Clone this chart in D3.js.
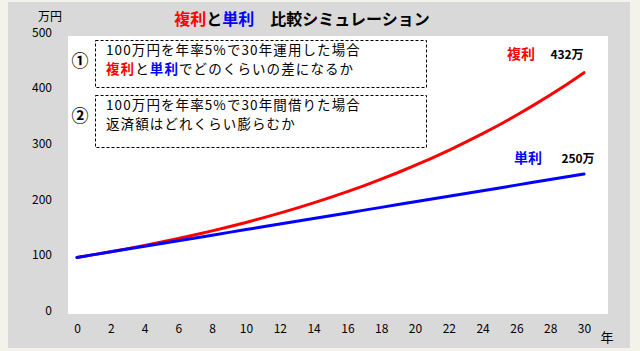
<!DOCTYPE html>
<html>
<head>
<meta charset="utf-8">
<script src="https://cdn.jsdelivr.net/npm/d3@7"></script>
<style>
  body { margin: 0; background: #f3f3ec; }
  svg text { font-family: "Noto Sans CJK JP", "Noto Sans", sans-serif; }
</style>
</head>
<body>
<svg id="chart" width="640" height="351"></svg>
<script>
// DATA
const years = d3.range(0, 31);
const compound = [100, 105, 110.25, 115.76, 121.55, 127.63, 134.01, 140.71, 147.75, 155.13,
  162.89, 171.03, 179.59, 188.56, 197.99, 207.89, 218.29, 229.2, 240.66, 252.7,
  265.33, 278.6, 292.53, 307.15, 322.51, 338.64, 355.57, 373.35, 392.01, 411.61, 432.19];
const simple = [100, 105, 110, 115, 120, 125, 130, 135, 140, 145, 150, 155, 160, 165, 170,
  175, 180, 185, 190, 195, 200, 205, 210, 215, 220, 225, 230, 235, 240, 245, 250];
const xTicks = d3.range(0, 31, 2);
const yTicks = [0, 100, 200, 300, 400, 500];
const notes = [
  ["100万円を年率5%で30年運用した場合", "複利と単利でどのくらいの差になるか"],
  ["100万円を年率5%で30年間借りた場合", "返済額はどれくらい膨らむか"]
];

// CANVAS SETUP
const svg = d3.select("#chart");
const plot = { left: 68, right: 608, top: 36, bottom: 314 };

svg.append("rect").attr("x", 8).attr("y", 2).attr("width", 622).attr("height", 346).attr("fill", "#d9d9d9");
svg.append("rect").attr("x", plot.left).attr("y", plot.top)
  .attr("width", plot.right - plot.left).attr("height", plot.bottom - plot.top).attr("fill", "#fff");

const x = d3.scaleLinear().domain([0, 30]).range([77, 584]);
const y = d3.scaleLinear().domain([0, 500]).range([313, 35]);

// title
const title = svg.append("text").attr("x", 302).attr("y", 25).attr("text-anchor", "middle")
  .attr("font-size", 16).attr("font-weight", "bold");
title.append("tspan").attr("fill", "#ff0000").text("複利");
title.append("tspan").attr("fill", "#000").text("と");
title.append("tspan").attr("fill", "#0000ff").text("単利");
title.append("tspan").attr("fill", "#000").text("　比較シミュレーション");

// axes
const yAxis = svg.append("g").attr("transform", "translate(52,0)")
  .call(d3.axisLeft(y).tickValues(yTicks).tickSize(0).tickPadding(0));
yAxis.select(".domain").remove();
yAxis.selectAll("text").attr("font-size", 12).attr("fill", "#000").attr("dy", "0.1em");

const xAxis = svg.append("g").attr("transform", "translate(0,324)")
  .call(d3.axisBottom(x).tickValues(xTicks).tickSize(0).tickPadding(0));
xAxis.select(".domain").remove();
xAxis.selectAll("text").attr("font-size", 12).attr("fill", "#000");

svg.append("text").attr("x", 50).attr("y", 21).attr("text-anchor", "middle")
  .attr("font-size", 12).text("万円");
svg.append("text").attr("x", 607).attr("y", 342).attr("text-anchor", "middle")
  .attr("font-size", 13).text("年");

// note boxes
const boxY = [40, 95], boxH = [47, 52];
notes.forEach((lines, i) => {
  svg.append("rect").attr("x", 95.5).attr("y", boxY[i] + 0.5).attr("width", 331).attr("height", boxH[i])
    .attr("fill", "none").attr("stroke", "#000").attr("stroke-width", 1).attr("stroke-dasharray", "3,2");
  svg.append("text").attr("x", 80).attr("y", boxY[i] + 27).attr("text-anchor", "middle")
    .attr("font-size", 17).attr("font-weight", "bold").text(i === 0 ? "①" : "②");
  lines.forEach((s, j) => {
    const t = svg.append("text").attr("x", 106).attr("y", boxY[i] + 14.5 + j * 19.5)
      .attr("font-size", 13.5).attr("letter-spacing", 1.1);
    if (i === 0 && j === 1) {
      t.append("tspan").attr("fill", "#ff0000").attr("font-weight", "bold").text("複利");
      t.append("tspan").text("と");
      t.append("tspan").attr("fill", "#0000ff").attr("font-weight", "bold").text("単利");
      t.append("tspan").text("でどのくらいの差になるか");
    } else {
      t.text(s);
    }
  });
});

// lines
const line = d3.line().x((d, i) => x(years[i])).y((d) => y(d));
svg.append("path").datum(compound).attr("d", line).attr("fill", "none")
  .attr("stroke", "#ff0000").attr("stroke-width", 3).attr("stroke-linecap", "round");
svg.append("path").datum(simple).attr("d", line).attr("fill", "none")
  .attr("stroke", "#0000ff").attr("stroke-width", 3).attr("stroke-linecap", "round");

// end labels
const endLabels = [
  { name: "複利", color: "#ff0000", val: compound[30], nx: 521, vx: 567, ly: 59 },
  { name: "単利", color: "#0000ff", val: simple[30], nx: 528, vx: 578, ly: 163 }
];
endLabels.forEach((d) => {
  svg.append("text").attr("x", d.nx).attr("y", d.ly).attr("text-anchor", "middle")
    .attr("font-size", 14).attr("font-weight", "bold").attr("fill", d.color).text(d.name);
  svg.append("text").attr("x", d.vx).attr("y", d.ly).attr("text-anchor", "middle")
    .attr("font-size", 12).attr("font-weight", "bold").attr("fill", "#000")
    .text(Math.round(d.val) + "万");
});
</script>
</body>
</html>
